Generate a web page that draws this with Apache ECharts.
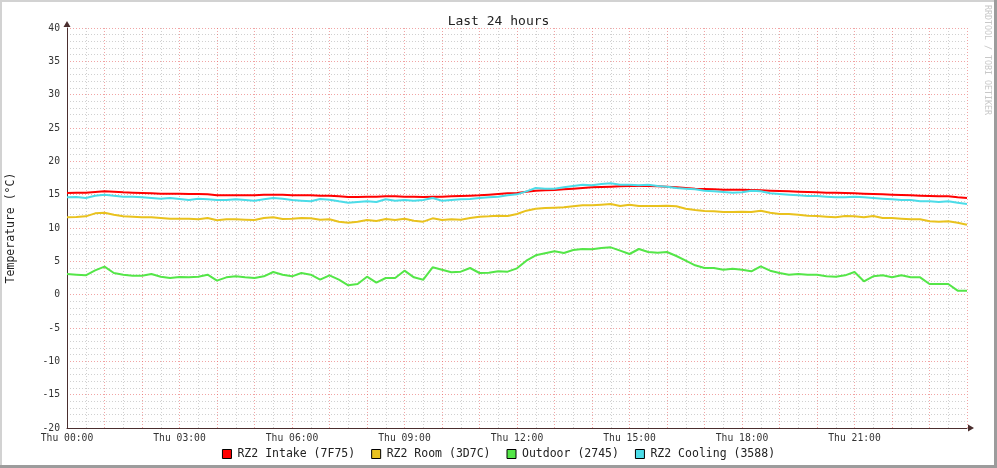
<!DOCTYPE html>
<html>
<head>
<meta charset="utf-8">
<script src="https://cdn.jsdelivr.net/npm/echarts@6/dist/echarts.min.js"></script>
<style>
html,body{margin:0;padding:0;background:#fff;}
#c{width:997px;height:468px;}
</style>
</head>
<body>
<div id="c"></div>
<script>
// ---- data (15-minute samples, Thu 00:00 .. Fri 00:00) ----
var stepHours = 0.25;
var seriesNames = ['RZ2 Intake (7F75)', 'RZ2 Room (3D7C)', 'Outdoor (2745)', 'RZ2 Cooling (3588)'];
var xTickLabels = ['Thu 00:00','Thu 03:00','Thu 06:00','Thu 09:00','Thu 12:00','Thu 15:00','Thu 18:00','Thu 21:00'];
var yTicks = [-20,-15,-10,-5,0,5,10,15,20,25,30,35,40];

var intake = [
15.25,15.3,15.3,15.4, 15.5,15.45,15.35,15.3, 15.25,15.2,15.15,15.15, 15.15,15.1,15.1,15.05,
14.9,14.9,14.9,14.9, 14.9,15.0,15.0,15.0, 14.9,14.9,14.9,14.85, 14.85,14.75,14.65,14.65,
14.7,14.7,14.75,14.75, 14.7,14.7,14.65,14.7, 14.7,14.75,14.8,14.85, 14.9,15.0,15.1,15.2,
15.25,15.45,15.6,15.65, 15.7,15.8,15.9,16.0, 16.1,16.15,16.2,16.25, 16.3,16.3,16.3,16.25,
16.2,16.1,16.0,15.9, 15.85,15.8,15.75,15.75, 15.75,15.7,15.65,15.6, 15.55,15.5,15.45,15.4,
15.35,15.3,15.3,15.25, 15.2,15.15,15.1,15.05, 15.0,14.95,14.9,14.85, 14.8,14.75,14.75,14.6,
14.5];
var room = [
11.6,11.65,11.75,12.2, 12.3,12.0,11.75,11.7, 11.6,11.6,11.5,11.4, 11.4,11.4,11.3,11.5,
11.15,11.3,11.3,11.25, 11.2,11.5,11.6,11.35, 11.4,11.5,11.45,11.25, 11.3,10.95,10.8,10.95,
11.2,11.05,11.35,11.2, 11.4,11.1,10.95,11.45, 11.2,11.3,11.25,11.5, 11.7,11.75,11.85,11.8,
12.1,12.6,12.9,13.0, 13.05,13.1,13.25,13.4, 13.4,13.5,13.6,13.3, 13.5,13.3,13.3,13.3,
13.35,13.25,12.9,12.7, 12.55,12.5,12.4,12.4, 12.45,12.4,12.6,12.3, 12.1,12.1,12.0,11.85,
11.8,11.7,11.6,11.8, 11.75,11.6,11.8,11.5, 11.5,11.4,11.3,11.3, 11.0,10.95,11.0,10.8,
10.5];
var outdoor = [
3.1,3.0,2.9,3.65, 4.2,3.25,3.0,2.85, 2.85,3.1,2.7,2.5, 2.65,2.6,2.7,3.0,
2.1,2.6,2.75,2.6, 2.5,2.75,3.4,3.0, 2.75,3.25,3.0,2.25, 2.9,2.25,1.4,1.6,
2.7,1.8,2.5,2.5, 3.6,2.6,2.25,4.1, 3.75,3.35,3.45,4.0, 3.25,3.3,3.5,3.45,
3.95,5.1,5.9,6.2, 6.5,6.25,6.7,6.85, 6.8,7.0,7.1,6.6, 6.1,6.85,6.4,6.3,
6.4,5.8,5.1,4.4, 4.0,4.0,3.75,3.9, 3.75,3.5,4.25,3.6, 3.25,3.0,3.1,3.0,
3.0,2.75,2.7,2.9, 3.4,2.0,2.75,2.9, 2.6,2.9,2.6,2.6, 1.6,1.6,1.6,0.6,
0.6];
var cooling = [
14.6,14.65,14.5,14.85, 15.0,14.85,14.7,14.7, 14.6,14.5,14.4,14.5, 14.35,14.2,14.4,14.3,
14.2,14.2,14.3,14.2, 14.1,14.3,14.5,14.4, 14.2,14.1,14.0,14.35, 14.25,14.0,13.8,13.9,
14.0,13.9,14.3,14.1, 14.2,14.1,14.2,14.5, 14.1,14.2,14.3,14.35, 14.5,14.6,14.7,14.9,
15.05,15.5,16.0,15.9, 15.9,16.1,16.3,16.5, 16.4,16.6,16.7,16.5, 16.5,16.4,16.5,16.3,
16.2,16.0,15.9,15.8, 15.6,15.5,15.4,15.3, 15.35,15.6,15.5,15.2, 15.1,15.0,14.9,14.8,
14.8,14.7,14.6,14.6, 14.7,14.6,14.5,14.4, 14.3,14.2,14.2,14.0, 14.0,13.9,14.0,13.8,
13.6];

var colors = ['#FF0000', '#E9C21E', '#54E648', '#4CDCE8'];
var values = [intake, room, outdoor, cooling];

function pairs(arr){ return arr.map(function(v,i){ return [i*stepHours, v]; }); }

var chart = echarts.init(document.getElementById('c'), null, {renderer:'canvas'});
var mono = 'DejaVu Sans Mono';
var majorGrid = {show:true, lineStyle:{color:'rgba(230,90,90,0.55)', type:[1,2], width:1}};
var minorGrid = {show:true, lineStyle:{color:'rgba(150,150,150,0.45)', type:[1,2], width:1}};

chart.setOption({
  backgroundColor:'#ffffff',
  animation:false,
  title:{text:'Last 24 hours', left:'center', top:10, textStyle:{fontFamily:mono, fontSize:13, fontWeight:'normal', color:'#222'}},
  grid:{left:67, right:30, top:28, bottom:40, containLabel:false, outerBoundsMode:'none'},
  legend:{
    data:seriesNames, bottom:3, left:'center', icon:'rect', itemWidth:9, itemHeight:9, itemGap:16,
    itemStyle:{borderColor:'#000', borderWidth:1},
    textStyle:{fontFamily:mono, fontSize:11.5, color:'#222', padding:[0,0,0,1]}
  },
  xAxis:{
    type:'value', min:0, max:24, interval:1,
    axisLine:{show:true, onZero:false, lineStyle:{color:'#4a2e2e', width:1}, symbol:['none','triangle'], symbolSize:[7,6], symbolOffset:[0,4]},
    axisTick:{show:false},
    axisLabel:{fontFamily:mono, fontSize:9.7, color:'#333', margin:5, showMaxLabel:true,
      formatter:function(v){ return (v%3===0 && v<24) ? xTickLabels[v/3] : ''; }},
    splitLine:majorGrid,
    minorTick:{show:false, splitNumber:2},
    minorSplitLine:minorGrid
  },
  yAxis:{
    type:'value', min:-20, max:40, interval:5,
    name:'Temperature (°C)', nameLocation:'middle', nameGap:50, nameRotate:90,
    nameTextStyle:{fontFamily:mono, fontSize:11.5, color:'#222'},
    axisLine:{show:true, onZero:false, lineStyle:{color:'#4a2e2e', width:1}, symbol:['none','triangle'], symbolSize:[7,6], symbolOffset:[0,4]},
    axisTick:{show:false},
    axisLabel:{fontFamily:mono, fontSize:9.7, color:'#333', margin:7,
      formatter:function(v){ return yTicks.indexOf(v) >= 0 ? String(v) : ''; }},
    splitLine:majorGrid,
    minorTick:{show:false, splitNumber:5},
    minorSplitLine:minorGrid
  },
  series:values.map(function(arr, k){
    return {
      name:seriesNames[k], type:'line', data:pairs(arr),
      showSymbol:false, symbol:'none', z:3+k,
      lineStyle:{color:colors[k], width:2},
      itemStyle:{color:colors[k]}
    };
  }),
  graphic:[
    {type:'rect', shape:{x:0,y:0,width:997,height:2}, style:{fill:'#D2D2D2'}, silent:true},
    {type:'rect', shape:{x:0,y:0,width:2,height:468}, style:{fill:'#D2D2D2'}, silent:true},
    {type:'rect', shape:{x:994,y:0,width:3,height:468}, style:{fill:'#9C9C9C'}, silent:true},
    {type:'rect', shape:{x:0,y:465,width:997,height:3}, style:{fill:'#9C9C9C'}, silent:true},
    {type:'text', x:987, y:60, rotation:-Math.PI/2, silent:true,
      style:{text:'RRDTOOL / TOBI OETIKER', fontFamily:mono, fontSize:8.3, fill:'#C8C8C8', align:'center', verticalAlign:'middle'}}
  ]
});
</script>
</body>
</html>
